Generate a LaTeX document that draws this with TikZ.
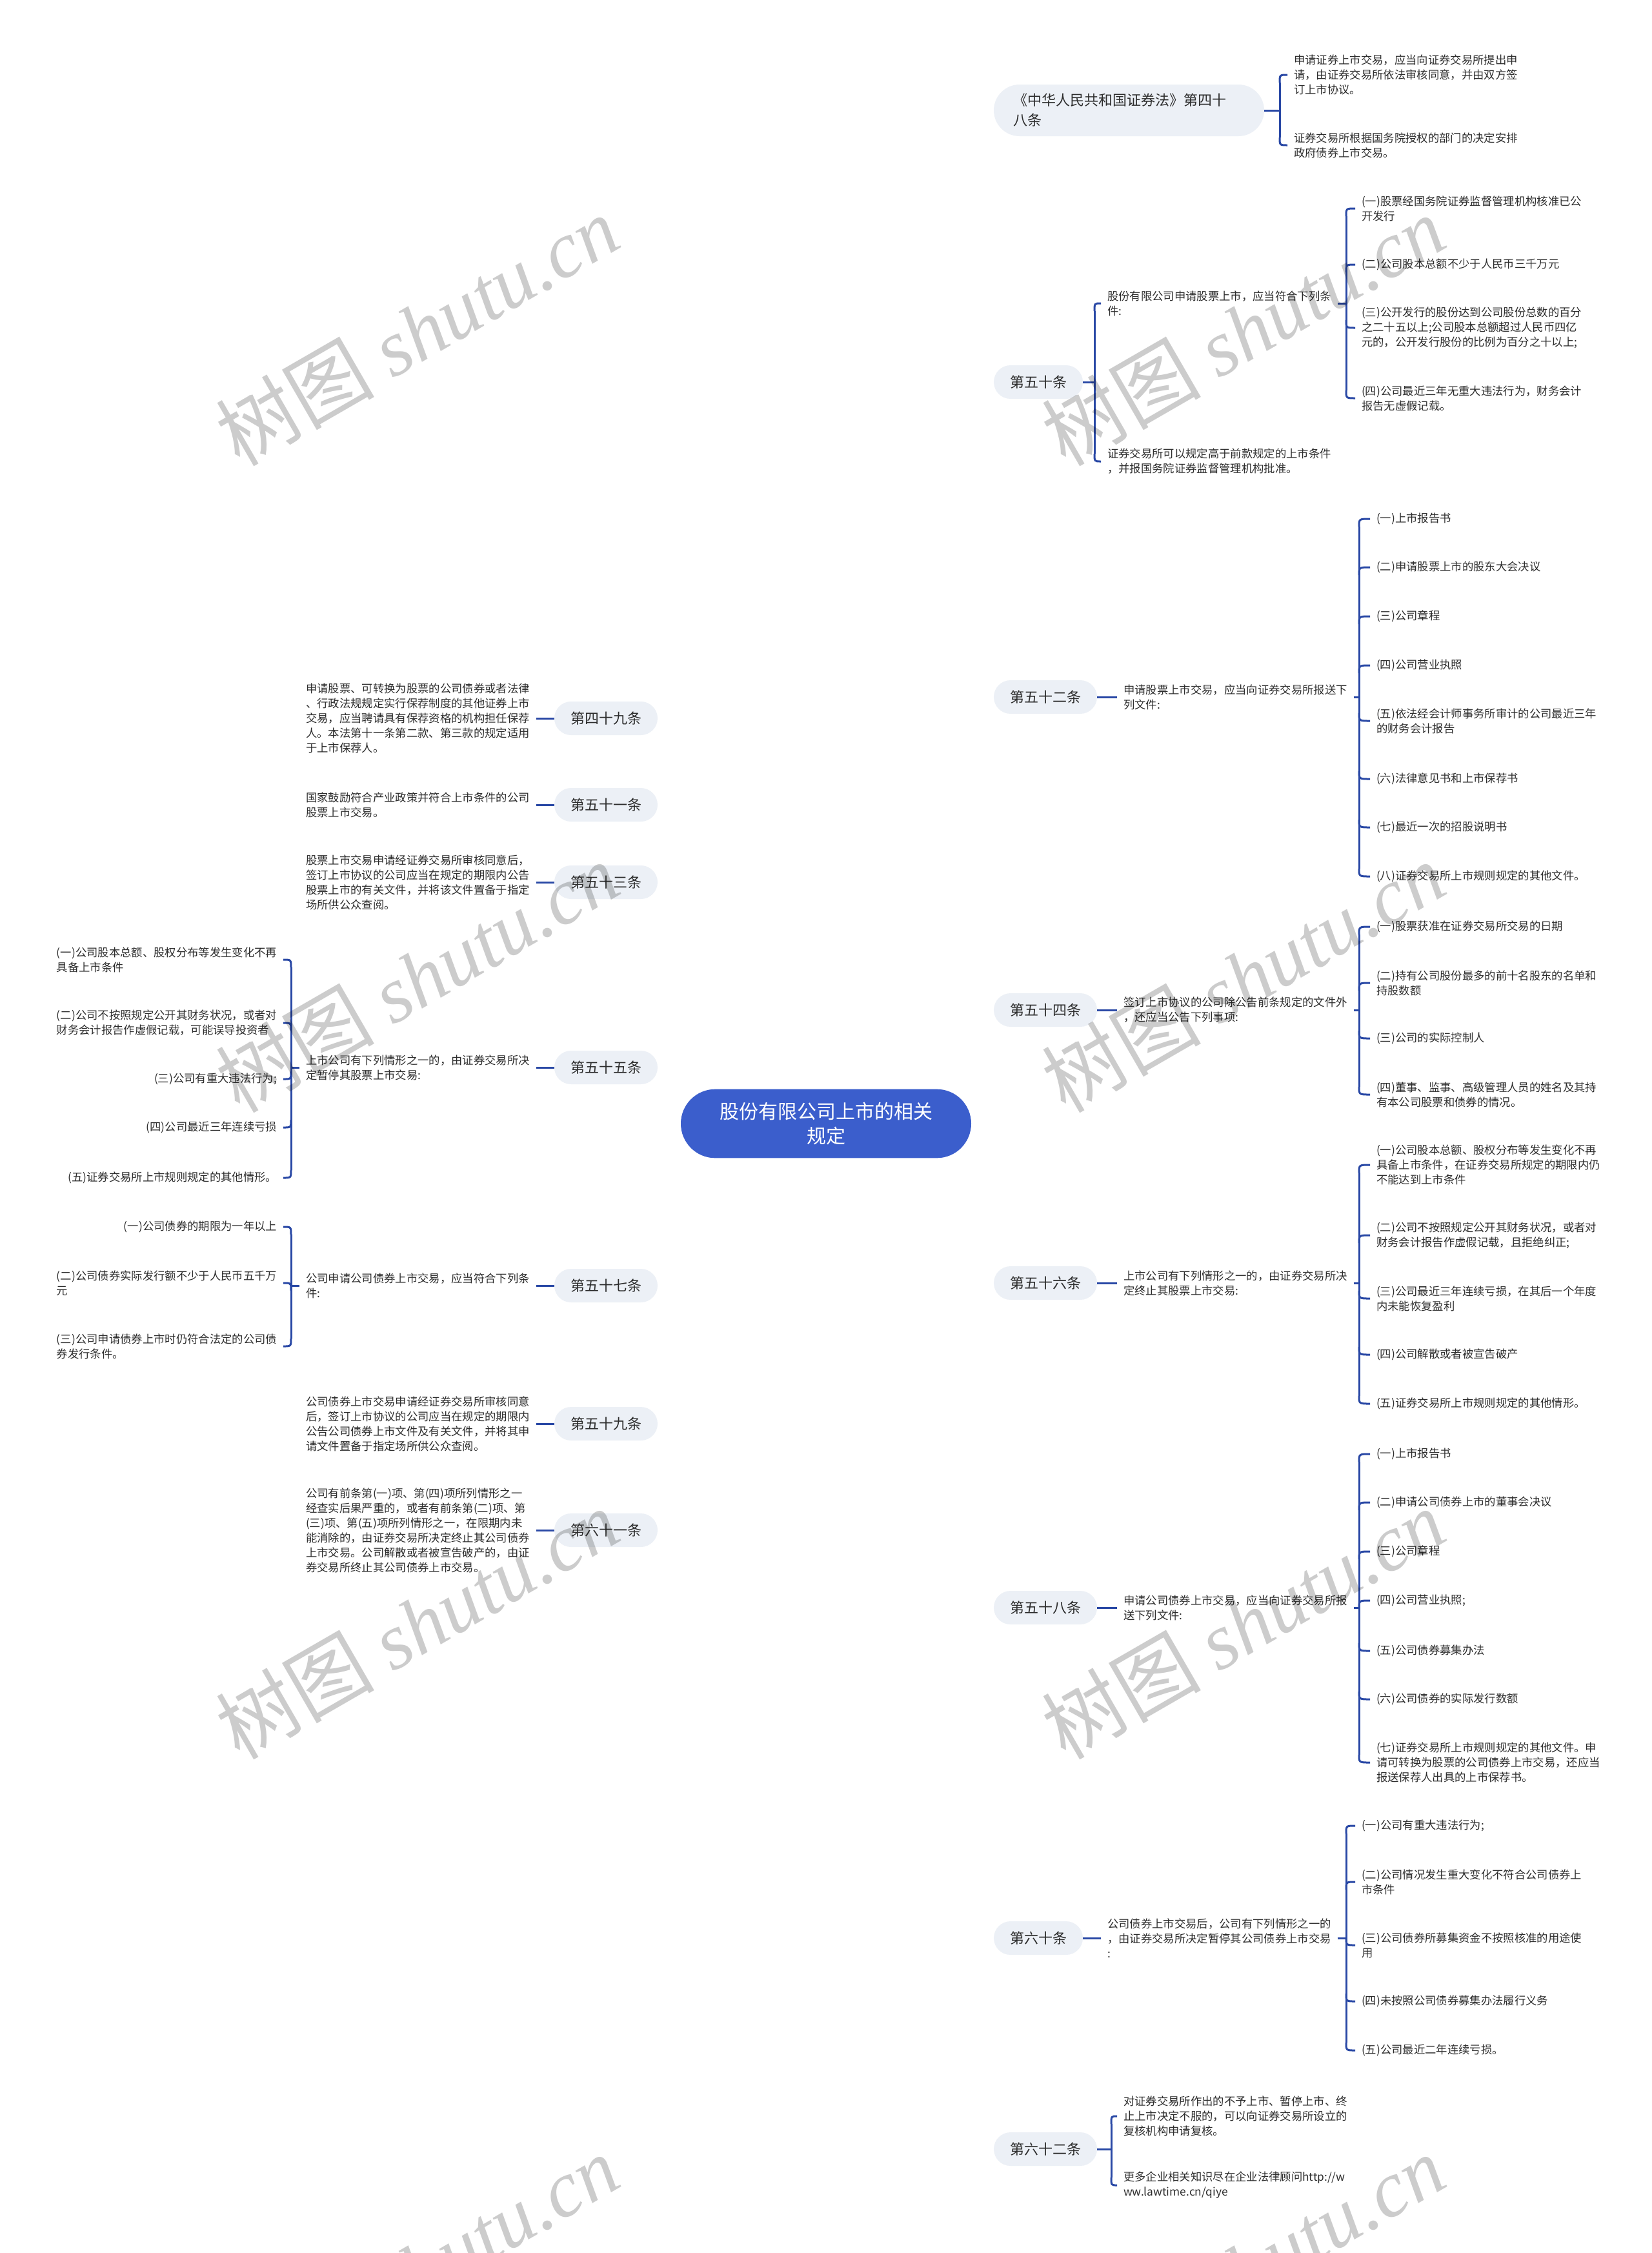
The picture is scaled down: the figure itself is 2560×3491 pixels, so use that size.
\documentclass[tikz,border=0pt]{standalone}
\usepackage{fontspec}
\setmainfont{Noto Sans CJK SC}
\newfontfamily\wmlat{Liberation Serif}
\usetikzlibrary{calc,backgrounds}
\definecolor{linec}{RGB}{41,72,165}
\definecolor{rootc}{RGB}{59,94,204}
\definecolor{pillc}{RGB}{236,240,246}
\definecolor{txtc}{RGB}{45,45,45}
\newcommand\leaffont{\fontsize{5.2pt}{6.9pt}\selectfont}
\newcommand\brfont{\fontsize{6.6pt}{9.3pt}\selectfont}
\newcommand\rootfont{\fontsize{9pt}{11.4pt}\selectfont}
\tikzset{
 leaf/.style={inner xsep=3pt, inner ysep=0.5pt, outer sep=0pt, align=left, font=\leaffont, text=txtc},
 pill/.style={fill=pillc, rounded corners=7.8pt, inner xsep=7.5pt, minimum height=15.6pt, outer sep=0pt, font=\brfont, text=txtc},
 rootbox/.style={fill=rootc, rounded corners=16pt, minimum width=135pt, minimum height=32pt, align=center, font=\rootfont, text=white, outer sep=0pt},
 conn/.style={draw=linec, line width=0.7pt},
 br/.style={draw=linec, line width=0.9pt},
 wm/.style={rotate=30, text=black, text opacity=0.2, font=\fontsize{37pt}{37pt}\selectfont}
}
\newcommand\mylink[1]{\draw[conn] (root.center) .. controls ($(root.center)!0.6!(root.center |- #1)$) and ($(#1)!0.5!(root.center |- #1)$) .. (#1);}
\newcommand\myhook[3]{\draw[br] ($(#1 |- #2)+(0,#3)$) .. controls (#1 |- #2) .. (#2);}
\newcommand\mybar[3]{\draw[br] ($(#1 |- #2)+(0,12)$) -- ($(#1 |- #3)+(0,-12)$);}
\begin{document}
\begin{tikzpicture}[x=0.3pt,y=-0.3pt]
\useasboundingbox (0,0) rectangle (2560,3491);
\fill[white] (0,0) rectangle (2560,3491);
\clip (0,0) rectangle (2560,3491);

% root
\node[rootbox] (root) at (1280,1741) {股份有限公司上市的相关\\规定};

% right branches
\node[pill, anchor=west, text width=107.7pt, inner xsep=9pt, align=left, minimum height=24pt, rounded corners=12pt] (b48) at (1540,171) {《中华人民共和国证券法》第四十\\八条};
\node[pill, anchor=west] (b50) at (1540,592) {第五十条};
\node[pill, anchor=west] (b52) at (1540,1080) {第五十二条};
\node[pill, anchor=west] (b54) at (1540,1565) {第五十四条};
\node[pill, anchor=west] (b56) at (1540,1988) {第五十六条};
\node[pill, anchor=west] (b58) at (1540,2491) {第五十八条};
\node[pill, anchor=west] (b60) at (1540,3003) {第六十条};
\node[pill, anchor=west] (b62) at (1540,3330) {第六十二条};

% left branches
\node[pill, anchor=east] (b49) at (1019,1113) {第四十九条};
\node[pill, anchor=east] (b51) at (1019,1247) {第五十一条};
\node[pill, anchor=east] (b53) at (1019,1367) {第五十三条};
\node[pill, anchor=east] (b55) at (1019,1654) {第五十五条};
\node[pill, anchor=east] (b57) at (1019,1992) {第五十七条};
\node[pill, anchor=east] (b59) at (1019,2206) {第五十九条};
\node[pill, anchor=east] (b61) at (1019,2371) {第六十一条};

% root links
\begin{scope}[on background layer]
\mylink{b48.west}\mylink{b50.west}\mylink{b52.west}\mylink{b54.west}
\mylink{b56.west}\mylink{b58.west}\mylink{b60.west}\mylink{b62.west}
\mylink{b49.east}\mylink{b51.east}\mylink{b53.east}\mylink{b55.east}
\mylink{b57.east}\mylink{b59.east}\mylink{b61.east}
\end{scope}

% ---- 48
\coordinate (v48) at (1983,171);
\node[leaf, anchor=west] (c48a) at (1995,116) {申请证券上市交易，应当向证券交易所提出申\\请，由证券交易所依法审核同意，并由双方签\\订上市协议。};
\node[leaf, anchor=west] (c48b) at (1995,225) {证券交易所根据国务院授权的部门的决定安排\\政府债券上市交易。};
\draw[br] (b48.east) -- (v48);
\mybar{v48}{c48a.west}{c48b.west}
\myhook{v48}{c48a.west}{12}\myhook{v48}{c48b.west}{-12}

% ---- 50
\coordinate (v50) at (1696,592);
\coordinate (v50s) at (2086,470);
\node[leaf, anchor=west] (t50) at (1706,470) {股份有限公司申请股票上市，应当符合下列条\\件:};
\node[leaf, anchor=west] (t50b) at (1706,715) {证券交易所可以规定高于前款规定的上市条件\\，并报国务院证券监督管理机构批准。};
\node[leaf, anchor=west] (i50a) at (2100,323) {(一)股票经国务院证券监督管理机构核准已公\\开发行};
\node[leaf, anchor=west] (i50b) at (2100,410) {(二)公司股本总额不少于人民币三千万元};
\node[leaf, anchor=west] (i50c) at (2100,508) {(三)公开发行的股份达到公司股份总数的百分\\之二十五以上;公司股本总额超过人民币四亿\\元的，公开发行股份的比例为百分之十以上;};
\node[leaf, anchor=west] (i50d) at (2100,617) {(四)公司最近三年无重大违法行为，财务会计\\报告无虚假记载。};
\draw[br] (b50.east) -- (v50);
\mybar{v50}{t50.west}{t50b.west}
\myhook{v50}{t50.west}{12}\myhook{v50}{t50b.west}{-12}
\draw[br] (t50.east) -- (v50s);
\mybar{v50s}{i50a.west}{i50d.west}
\myhook{v50s}{i50a.west}{12}\myhook{v50s}{i50b.west}{12}
\myhook{v50s}{i50c.west}{-12}\myhook{v50s}{i50d.west}{-12}

% ---- 52
\coordinate (v52) at (2106,1080);
\node[leaf, anchor=west] (t52) at (1731,1080) {申请股票上市交易，应当向证券交易所报送下\\列文件:};
\node[leaf, anchor=west] (i52a) at (2123,804) {(一)上市报告书};
\node[leaf, anchor=west] (i52b) at (2123,879) {(二)申请股票上市的股东大会决议};
\node[leaf, anchor=west] (i52c) at (2123,955) {(三)公司章程};
\node[leaf, anchor=west] (i52d) at (2123,1031) {(四)公司营业执照};
\node[leaf, anchor=west] (i52e) at (2123,1117) {(五)依法经会计师事务所审计的公司最近三年\\的财务会计报告};
\node[leaf, anchor=west] (i52f) at (2123,1207) {(六)法律意见书和上市保荐书};
\node[leaf, anchor=west] (i52g) at (2123,1282) {(七)最近一次的招股说明书};
\node[leaf, anchor=west] (i52h) at (2123,1358) {(八)证券交易所上市规则规定的其他文件。};
\draw[br] (b52.east) -- (t52.west);
\draw[br] (t52.east) -- (v52);
\mybar{v52}{i52a.west}{i52h.west}
\myhook{v52}{i52a.west}{12}\myhook{v52}{i52b.west}{12}\myhook{v52}{i52c.west}{12}\myhook{v52}{i52d.west}{12}
\myhook{v52}{i52e.west}{-12}\myhook{v52}{i52f.west}{-12}\myhook{v52}{i52g.west}{-12}\myhook{v52}{i52h.west}{-12}

% ---- 54
\coordinate (v54) at (2106,1565);
\node[leaf, anchor=west] (t54) at (1731,1565) {签订上市协议的公司除公告前条规定的文件外\\，还应当公告下列事项:};
\node[leaf, anchor=west] (i54a) at (2123,1436) {(一)股票获准在证券交易所交易的日期};
\node[leaf, anchor=west] (i54b) at (2123,1523) {(二)持有公司股份最多的前十名股东的名单和\\持股数额};
\node[leaf, anchor=west] (i54c) at (2123,1609) {(三)公司的实际控制人};
\node[leaf, anchor=west] (i54d) at (2123,1696) {(四)董事、监事、高级管理人员的姓名及其持\\有本公司股票和债券的情况。};
\draw[br] (b54.east) -- (t54.west);
\draw[br] (t54.east) -- (v54);
\mybar{v54}{i54a.west}{i54d.west}
\myhook{v54}{i54a.west}{12}\myhook{v54}{i54b.west}{12}
\myhook{v54}{i54c.west}{-12}\myhook{v54}{i54d.west}{-12}

% ---- 56
\coordinate (v56) at (2106,1988);
\node[leaf, anchor=west] (t56) at (1731,1988) {上市公司有下列情形之一的，由证券交易所决\\定终止其股票上市交易:};
\node[leaf, anchor=west] (i56a) at (2123,1805) {(一)公司股本总额、股权分布等发生变化不再\\具备上市条件，在证券交易所规定的期限内仍\\不能达到上市条件};
\node[leaf, anchor=west] (i56b) at (2123,1914) {(二)公司不按照规定公开其财务状况，或者对\\财务会计报告作虚假记载，且拒绝纠正;};
\node[leaf, anchor=west] (i56c) at (2123,2012) {(三)公司最近三年连续亏损，在其后一个年度\\内未能恢复盈利};
\node[leaf, anchor=west] (i56d) at (2123,2099) {(四)公司解散或者被宣告破产};
\node[leaf, anchor=west] (i56e) at (2123,2175) {(五)证券交易所上市规则规定的其他情形。};
\draw[br] (b56.east) -- (t56.west);
\draw[br] (t56.east) -- (v56);
\mybar{v56}{i56a.west}{i56e.west}
\myhook{v56}{i56a.west}{12}\myhook{v56}{i56b.west}{12}
\myhook{v56}{i56c.west}{-12}\myhook{v56}{i56d.west}{-12}\myhook{v56}{i56e.west}{-12}

% ---- 58
\coordinate (v58) at (2106,2491);
\node[leaf, anchor=west] (t58) at (1731,2491) {申请公司债券上市交易，应当向证券交易所报\\送下列文件:};
\node[leaf, anchor=west] (i58a) at (2123,2253) {(一)上市报告书};
\node[leaf, anchor=west] (i58b) at (2123,2328) {(二)申请公司债券上市的董事会决议};
\node[leaf, anchor=west] (i58c) at (2123,2404) {(三)公司章程};
\node[leaf, anchor=west] (i58d) at (2123,2480) {(四)公司营业执照;};
\node[leaf, anchor=west] (i58e) at (2123,2558) {(五)公司债券募集办法};
\node[leaf, anchor=west] (i58f) at (2123,2633) {(六)公司债券的实际发行数额};
\node[leaf, anchor=west] (i58g) at (2123,2731) {(七)证券交易所上市规则规定的其他文件。申\\请可转换为股票的公司债券上市交易，还应当\\报送保荐人出具的上市保荐书。};
\draw[br] (b58.east) -- (t58.west);
\draw[br] (t58.east) -- (v58);
\mybar{v58}{i58a.west}{i58g.west}
\myhook{v58}{i58a.west}{12}\myhook{v58}{i58b.west}{12}\myhook{v58}{i58c.west}{12}\myhook{v58}{i58d.west}{12}
\myhook{v58}{i58e.west}{-12}\myhook{v58}{i58f.west}{-12}\myhook{v58}{i58g.west}{-12}

% ---- 60
\coordinate (v60) at (2086,3003);
\node[leaf, anchor=west] (t60) at (1706,3003) {公司债券上市交易后，公司有下列情形之一的\\，由证券交易所决定暂停其公司债券上市交易\\:};
\node[leaf, anchor=west] (i60a) at (2100,2829) {(一)公司有重大违法行为;};
\node[leaf, anchor=west] (i60b) at (2100,2916) {(二)公司情况发生重大变化不符合公司债券上\\市条件};
\node[leaf, anchor=west] (i60c) at (2100,3014) {(三)公司债券所募集资金不按照核准的用途使\\用};
\node[leaf, anchor=west] (i60d) at (2100,3101) {(四)未按照公司债券募集办法履行义务};
\node[leaf, anchor=west] (i60e) at (2100,3177) {(五)公司最近二年连续亏损。};
\draw[br] (b60.east) -- (t60.west);
\draw[br] (t60.east) -- (v60);
\mybar{v60}{i60a.west}{i60e.west}
\myhook{v60}{i60a.west}{12}\myhook{v60}{i60b.west}{12}
\myhook{v60}{i60c.west}{-12}\myhook{v60}{i60d.west}{-12}\myhook{v60}{i60e.west}{-12}

% ---- 62
\coordinate (v62) at (1722,3330);
\node[leaf, anchor=west] (c62a) at (1731,3279) {对证券交易所作出的不予上市、暂停上市、终\\止上市决定不服的，可以向证券交易所设立的\\复核机构申请复核。};
\node[leaf, anchor=west] (c62b) at (1731,3386) {更多企业相关知识尽在企业法律顾问http://w\\ww.lawtime.cn/qiye};
\draw[br] (b62.east) -- (v62);
\mybar{v62}{c62a.west}{c62b.west}
\myhook{v62}{c62a.west}{12}\myhook{v62}{c62b.west}{-12}

% ---- left texts
\node[leaf, anchor=west] (t49) at (464,1113) {申请股票、可转换为股票的公司债券或者法律\\、行政法规规定实行保荐制度的其他证券上市\\交易，应当聘请具有保荐资格的机构担任保荐\\人。本法第十一条第二款、第三款的规定适用\\于上市保荐人。};
\node[leaf, anchor=west] (t51) at (464,1247) {国家鼓励符合产业政策并符合上市条件的公司\\股票上市交易。};
\node[leaf, anchor=west] (t53) at (464,1367) {股票上市交易申请经证券交易所审核同意后，\\签订上市协议的公司应当在规定的期限内公告\\股票上市的有关文件，并将该文件置备于指定\\场所供公众查阅。};
\node[leaf, anchor=west] (t55) at (464,1654) {上市公司有下列情形之一的，由证券交易所决\\定暂停其股票上市交易:};
\node[leaf, anchor=west] (t57) at (464,1992) {公司申请公司债券上市交易，应当符合下列条\\件:};
\node[leaf, anchor=west] (t59) at (464,2206) {公司债券上市交易申请经证券交易所审核同意\\后，签订上市协议的公司应当在规定的期限内\\公告公司债券上市文件及有关文件，并将其申\\请文件置备于指定场所供公众查阅。};
\node[leaf, anchor=west] (t61) at (464,2371) {公司有前条第(一)项、第(四)项所列情形之一\\经查实后果严重的，或者有前条第(二)项、第\\(三)项、第(五)项所列情形之一，在限期内未\\能消除的，由证券交易所决定终止其公司债券\\上市交易。公司解散或者被宣告破产的，由证\\券交易所终止其公司债券上市交易。};
\draw[br] (t49.east) -- (b49.west);
\draw[br] (t51.east) -- (b51.west);
\draw[br] (t53.east) -- (b53.west);
\draw[br] (t55.east) -- (b55.west);
\draw[br] (t57.east) -- (b57.west);
\draw[br] (t59.east) -- (b59.west);
\draw[br] (t61.east) -- (b61.west);

% ---- 55 items
\coordinate (v55) at (451,1654);
\node[leaf, anchor=east] (i55a) at (439,1487) {(一)公司股本总额、股权分布等发生变化不再\\具备上市条件};
\node[leaf, anchor=east] (i55b) at (439,1585) {(二)公司不按照规定公开其财务状况，或者对\\财务会计报告作虚假记载，可能误导投资者};
\node[leaf, anchor=east] (i55c) at (439,1672) {(三)公司有重大违法行为;};
\node[leaf, anchor=east] (i55d) at (439,1747) {(四)公司最近三年连续亏损};
\node[leaf, anchor=east] (i55e) at (439,1825) {(五)证券交易所上市规则规定的其他情形。};
\draw[br] (t55.west) -- (v55);
\mybar{v55}{i55a.east}{i55e.east}
\myhook{v55}{i55a.east}{12}\myhook{v55}{i55b.east}{12}
\myhook{v55}{i55c.east}{-12}\myhook{v55}{i55d.east}{-12}\myhook{v55}{i55e.east}{-12}

% ---- 57 items
\coordinate (v57) at (451,1992);
\node[leaf, anchor=east] (i57a) at (439,1901) {(一)公司债券的期限为一年以上};
\node[leaf, anchor=east] (i57b) at (439,1988) {(二)公司债券实际发行额不少于人民币五千万\\元};
\node[leaf, anchor=east] (i57c) at (439,2086) {(三)公司申请债券上市时仍符合法定的公司债\\券发行条件。};
\draw[br] (t57.west) -- (v57);
\mybar{v57}{i57a.east}{i57c.east}
\myhook{v57}{i57a.east}{12}\myhook{v57}{i57b.east}{12}\myhook{v57}{i57c.east}{-12}

% ---- watermarks
\node[wm] (wm1) at (646,512) {树图 {\wmlat\itshape shutu.cn}};
\node[wm] (wm2) at (1926,512) {树图 {\wmlat\itshape shutu.cn}};
\node[wm] (wm3) at (646,1514) {树图 {\wmlat\itshape shutu.cn}};
\node[wm] (wm4) at (1926,1514) {树图 {\wmlat\itshape shutu.cn}};
\node[wm] (wm5) at (646,2516) {树图 {\wmlat\itshape shutu.cn}};
\node[wm] (wm6) at (1926,2516) {树图 {\wmlat\itshape shutu.cn}};
\node[wm] (wm7) at (646,3517) {树图 {\wmlat\itshape shutu.cn}};
\node[wm] (wm8) at (1926,3517) {树图 {\wmlat\itshape shutu.cn}};
\end{tikzpicture}
\end{document}
